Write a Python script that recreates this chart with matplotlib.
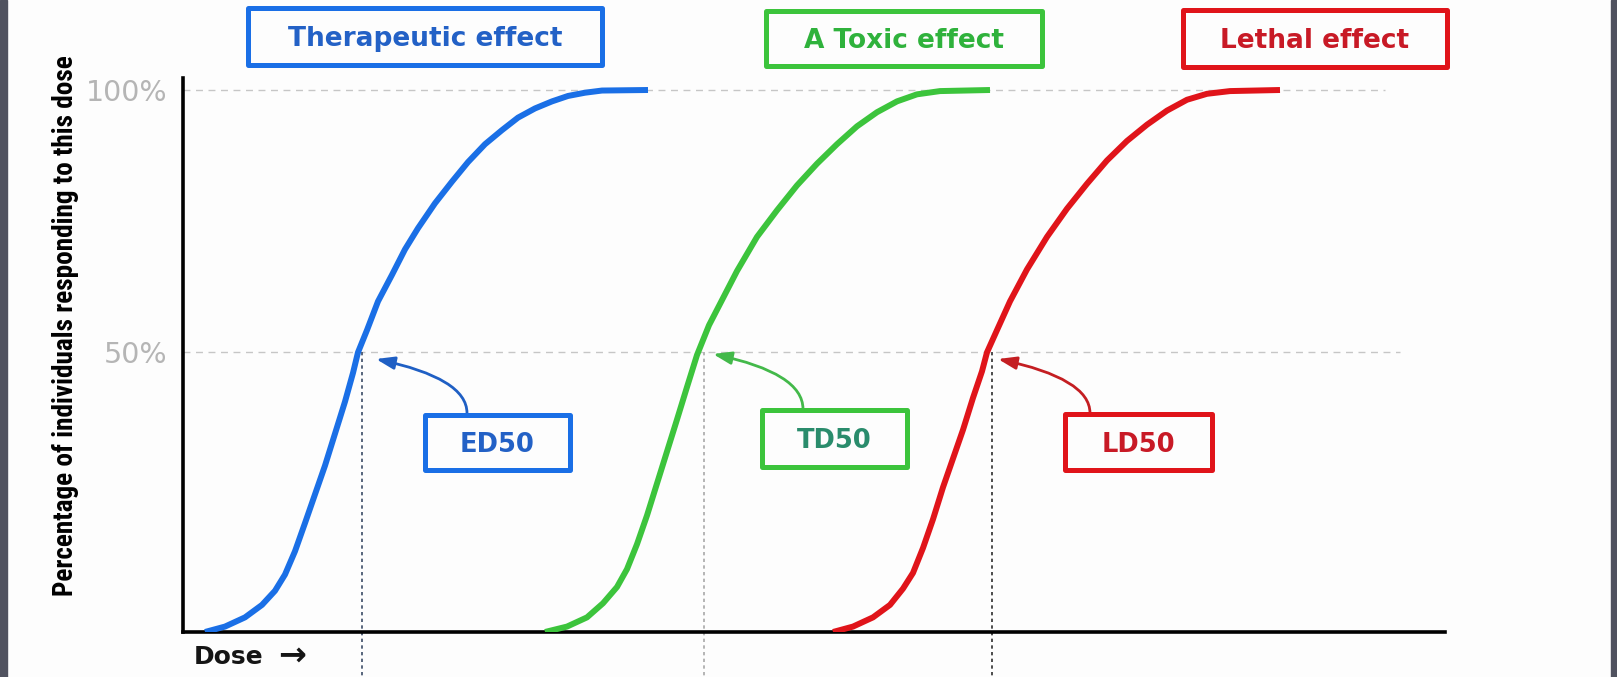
import matplotlib
matplotlib.use("Agg")
import matplotlib.pyplot as plt
from matplotlib import font_manager
from matplotlib.font_manager import FontProperties
from matplotlib.patches import Rectangle

W, H = 1617, 677

# curves: dose (arbitrary units) vs % responding
ed_dose = [2.2, 4.2, 6.2, 7.9, 9.2, 10.2, 11.2, 12.2, 13.2, 14.2, 15.2, 16.2, 17.0, 17.5,
           18.4, 19.5, 20.9, 22.2, 23.5, 25.2, 26.9, 28.5, 30.2, 31.9, 33.5, 35.2, 36.9,
           38.5, 40.2, 41.9, 46.5]
ed_resp = [0, 1.0, 2.7, 5.0, 7.6, 10.6, 14.9, 20.1, 25.4, 30.7, 36.6, 42.5, 47.8, 51.6,
           55.7, 61.0, 65.9, 70.6, 74.5, 79.1, 83.1, 86.7, 90.0, 92.6, 94.9, 96.6, 97.9,
           98.9, 99.5, 99.9, 100]
td_dose = [36.2, 38.4, 40.4, 42.0, 43.4, 44.4, 45.4, 46.4, 47.4, 48.4, 49.4, 50.4, 51.4,
           52.6, 54.0, 55.4, 57.4, 59.4, 61.4, 63.4, 65.4, 67.4, 69.4, 71.4, 73.4, 75.7, 80.7]
td_resp = [0, 1.0, 2.7, 5.3, 8.3, 11.6, 16.2, 21.5, 27.4, 33.3, 39.2, 45.2, 51.1,
           56.6, 61.6, 66.6, 72.9, 77.8, 82.4, 86.4, 90.0, 93.3, 95.9, 97.9, 99.2, 99.8, 100]
ld_dose = [65.0, 67.0, 69.0, 70.7, 72.0, 73.0, 74.0, 75.0, 76.0, 77.0, 78.0, 79.0, 79.9,
           80.4, 81.4, 82.7, 84.4, 86.4, 88.4, 90.4, 92.4, 94.4, 96.4, 98.4, 100.4, 102.4,
           104.7, 109.7]
ld_resp = [0, 1.0, 2.7, 5.0, 8.0, 10.9, 15.5, 20.8, 26.7, 32.0, 37.3, 43.2, 48.1,
           51.6, 55.7, 61.0, 66.9, 72.9, 78.1, 82.7, 87.0, 90.6, 93.6, 96.2, 98.2, 99.3,
           99.8, 100]

mid_doses = [17.9, 52.1, 80.9]
mid_labels = ["ED50", "TD50", "LD50"]
effect_labels = ["Therapeutic effect", "A Toxic effect", "Lethal effect"]
tick_pos = [51.7, 100]
tick_labels = ["50%", "100%"]
ylabel = "Percentage of individuals responding to this dose"

curve_cols = ["#1a6fe6", "#3cc43c", "#e0141a"]
text_cols = ["#2361c6", "#2fb23c", "#c81a26"]
mid_text_cols = ["#2361c6", "#2a8c6c", "#c81a26"]
arrow_cols = ["#1f5fc4", "#43b94a", "#c41e22"]
vline_cols = ["#3b4c66", "#a8a8a8", "#2e2e2e"]

fig = plt.figure(figsize=(W / 100, H / 100), dpi=100, facecolor="#fdfdfd")
ax = fig.add_axes([183 / W, 45 / H, (1445 - 183) / W, (632 - 78) / H])
ax.set_facecolor("none")
ax.set_xlim(0, 126.2)
ax.set_ylim(0, (632 - 78) / 5.42)

for s in ["top", "right"]:
    ax.spines[s].set_visible(False)
for s in ["left", "bottom"]:
    ax.spines[s].set_linewidth(2.6)
    ax.spines[s].set_color("black")

ax.set_xticks([])
ax.set_yticks(tick_pos, tick_labels)
ax.tick_params(axis="y", length=0, pad=11, labelsize=20.5, labelcolor="#b5b5b5")

# dashed guide lines
ax.plot([0, 120.2], [100, 100], color="#c6c6c6", lw=1.0, dashes=(5, 4), zorder=1)
ax.plot([0, 121.7], [tick_pos[0], tick_pos[0]], color="#c6c6c6", lw=1.0, dashes=(5, 4), zorder=1)

for (xs, ys), c in zip([(ed_dose, ed_resp), (td_dose, td_resp), (ld_dose, ld_resp)], curve_cols):
    ax.plot(xs, ys, color=c, lw=4.3, solid_capstyle="butt", solid_joinstyle="round", zorder=3)

for d, c in zip(mid_doses, vline_cols):
    ax.plot([d, d], [tick_pos[0], -9], color=c, lw=1.2, dashes=(2, 2), clip_on=False, zorder=2)

# boxes (figure pixel layout, top-left origin)
top_boxes = [(248, 8, 602, 65), (766, 11, 1042, 66), (1183, 10, 1447, 67)]
mid_boxes = [(425, 415, 570, 470), (762, 410, 907, 467), (1065, 414, 1212, 470)]


def box(x0, y0, x1, y1, text, ec, tc, fs):
    r = Rectangle((x0 / W, 1 - y1 / H), (x1 - x0) / W, (y1 - y0) / H,
                  transform=fig.transFigure, fill=False, ec=ec, lw=3.6, joinstyle="round")
    fig.patches.append(r)
    fig.text((x0 + x1) / 2 / W, 1 - (y0 + y1) / 2 / H, text, ha="center", va="center_baseline",
             fontsize=fs, fontweight="bold", color=tc)


for b, t, ec, tc in zip(top_boxes, effect_labels, curve_cols, text_cols):
    box(*b, t, ec, tc, 19)
for b, t, ec, tc in zip(mid_boxes, mid_labels, curve_cols, mid_text_cols):
    box(*b, t, ec, tc, 18.5)

# curved arrows from the small boxes to the 50% points
arrow_starts = [(467, 413), (803, 409), (1090, 413)]
arrow_tips = [(376, 359), (713, 354), (998, 359)]
for (sx, sy), (tx, ty), c in zip(arrow_starts, arrow_tips, arrow_cols):
    ax.annotate("", xy=(tx, H - ty), xycoords="figure pixels",
                xytext=(sx, H - sy), textcoords="figure pixels",
                arrowprops=dict(arrowstyle="-|>,head_length=1.1,head_width=0.38",
                                connectionstyle="angle3,angleA=90,angleB=-12",
                                color=c, lw=2.0, shrinkA=0, shrinkB=0))

fig.text(194 / W, 1 - 657 / H, "Dose", ha="left", va="center", fontsize=18,
         fontweight="bold", color="#151515")
fig.text(278 / W, 1 - 655 / H, "\u2192", ha="left", va="center", fontsize=24,
         fontweight="bold", color="#151515")

# y label: pick the bold face that gets tallest when fitted to the label length
bold_names = {f.name for f in font_manager.fontManager.ttflist
              if f.style == "normal" and isinstance(f.weight, int) and f.weight >= 700}
cands = [n for n in ["Liberation Sans Narrow", "Roboto Condensed", "Lato", "Roboto",
                     "Liberation Sans", "Inter", "DejaVu Sans"] if n in bold_names]
if not cands:
    cands = ["DejaVu Sans"]
renderer = fig.canvas.get_renderer()
best = None
for name in cands:
    t = fig.text(0, 0, ylabel, rotation=90, fontsize=20, fontweight="bold", family=name)
    h = t.get_window_extent(renderer).height
    t.remove()
    size = 20 * 540 / h
    if best is None or size > best[1]:
        best = (name, size)

fig.text(66 / W, 1 - 326 / H, ylabel, rotation=90, ha="center", va="center",
         fontsize=best[1], fontweight="bold", family=best[0], color="black")

# dark side strips
fig.patches.append(Rectangle((0, 0), 7 / W, 1, transform=fig.transFigure, color="#50525f"))
fig.patches.append(Rectangle((1611 / W, 0), 6 / W, 1, transform=fig.transFigure, color="#50525f"))

fig.savefig("out.png", dpi=100, facecolor=fig.get_facecolor())
